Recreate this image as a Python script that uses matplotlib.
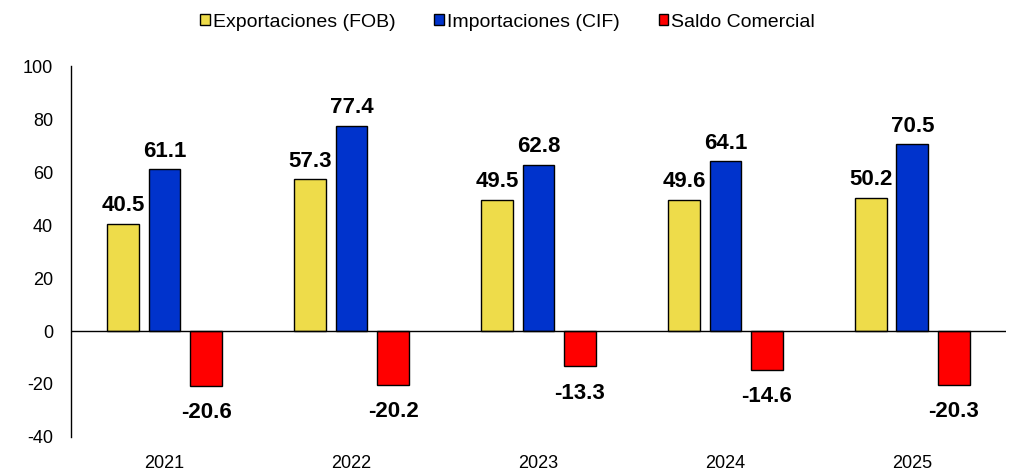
import matplotlib
matplotlib.use("Agg")
import matplotlib.pyplot as plt
import numpy as np

years = ["2021", "2022", "2023", "2024", "2025"]
exportaciones = [40.5, 57.3, 49.5, 49.6, 50.2]
importaciones = [61.1, 77.4, 62.8, 64.1, 70.5]
saldo = [-20.6, -20.2, -13.3, -14.6, -20.3]

plt.rcParams["font.family"] = ["Liberation Sans", "DejaVu Sans"]
plt.rcParams["axes.unicode_minus"] = False

fig = plt.figure(figsize=(10.15, 4.76), dpi=100)
ax = fig.add_axes([0.070, 0.082, 0.921, 0.779])

x = np.arange(len(years))
w = 0.17
off = 0.222
series = [
    (exportaciones, "#EEDC4A", "Exportaciones (FOB)", -off),
    (importaciones, "#0033CC", "Importaciones (CIF)", 0),
    (saldo, "#FF0000", "Saldo Comercial", off),
]
for vals, col, lab, dx in series:
    bars = ax.bar(x + dx, vals, w, color=col, edgecolor="black", linewidth=1, label=lab, zorder=2)
    for b, v in zip(bars, vals):
        if v >= 0:
            ax.annotate(f"{v:.1f}", (b.get_x() + b.get_width() / 2, v), xytext=(0, 5.5),
                        textcoords="offset points", ha="center", va="bottom",
                        fontsize=16, fontweight="bold")
        else:
            ax.annotate(f"{v:.1f}", (b.get_x() + b.get_width() / 2, v), xytext=(0, -12),
                        textcoords="offset points", ha="center", va="top",
                        fontsize=16, fontweight="bold")

ax.axhline(0, color="black", linewidth=1, zorder=3)
ax.set_xlim(-0.5, len(years) - 0.5)
ax.set_ylim(-40, 100)
ax.set_yticks(range(-40, 101, 20))
ax.set_xticks(x)
ax.set_xticklabels(years)
ax.tick_params(axis="both", length=0, labelsize=13)
ax.tick_params(axis="y", pad=13)
ax.tick_params(axis="x", pad=13)
for s in ["top", "right", "bottom"]:
    ax.spines[s].set_visible(False)
ax.spines["left"].set_linewidth(1)

fig.legend(loc="upper center", bbox_to_anchor=(0.5, 1.008), ncol=3, frameon=False,
           fontsize=14, handlelength=0.5, handleheight=0.5, handletextpad=0.15,
           columnspacing=2.0)

fig.savefig("out.png", dpi=100)
